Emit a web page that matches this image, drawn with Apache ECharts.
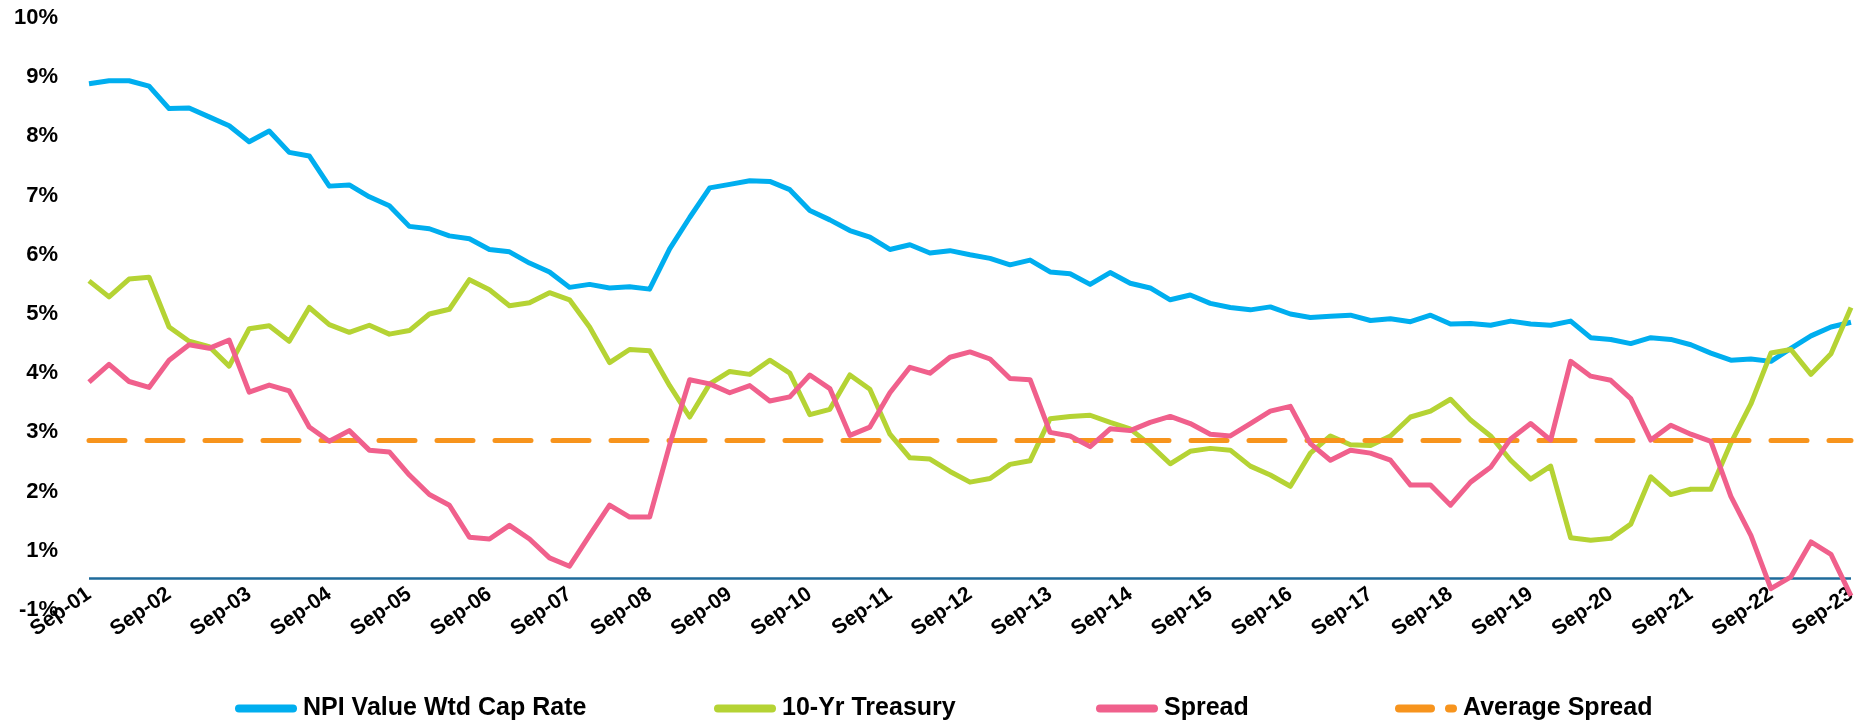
<!DOCTYPE html>
<html>
<head>
<meta charset="utf-8">
<script src="https://cdn.jsdelivr.net/npm/echarts@6/dist/echarts.min.js"></script>
<style>
html,body{margin:0;padding:0;background:#fff;}
#chart{width:1873px;height:723px;}
</style>
</head>
<body>
<div id="chart"></div>
<script>
// Quarterly categories
const categories = [
'Sep-01','Dec-01','Mar-02','Jun-02','Sep-02','Dec-02','Mar-03','Jun-03','Sep-03','Dec-03','Mar-04','Jun-04',
'Sep-04','Dec-04','Mar-05','Jun-05','Sep-05','Dec-05','Mar-06','Jun-06','Sep-06','Dec-06','Mar-07','Jun-07',
'Sep-07','Dec-07','Mar-08','Jun-08','Sep-08','Dec-08','Mar-09','Jun-09','Sep-09','Dec-09','Mar-10','Jun-10',
'Sep-10','Dec-10','Mar-11','Jun-11','Sep-11','Dec-11','Mar-12','Jun-12','Sep-12','Dec-12','Mar-13','Jun-13',
'Sep-13','Dec-13','Mar-14','Jun-14','Sep-14','Dec-14','Mar-15','Jun-15','Sep-15','Dec-15','Mar-16','Jun-16',
'Sep-16','Dec-16','Mar-17','Jun-17','Sep-17','Dec-17','Mar-18','Jun-18','Sep-18','Dec-18','Mar-19','Jun-19',
'Sep-19','Dec-19','Mar-20','Jun-20','Sep-20','Dec-20','Mar-21','Jun-21','Sep-21','Dec-21','Mar-22','Jun-22',
'Sep-22','Dec-22','Mar-23','Jun-23','Sep-23'
];

// Values as read against the chart's tick labels (%)
const npiCapRate = [
8.89,8.94,8.94,8.85,8.47,8.48,8.33,8.18,7.91,8.09,7.73,7.67,
7.16,7.18,6.98,6.83,6.48,6.44,6.32,6.27,6.09,6.05,5.86,5.71,
5.45,5.50,5.44,5.46,5.42,6.10,6.63,7.13,7.19,7.25,7.24,7.10,
6.75,6.59,6.41,6.30,6.09,6.17,6.03,6.07,6.00,5.94,5.83,5.91,
5.71,5.68,5.50,5.70,5.52,5.44,5.24,5.32,5.18,5.11,5.07,5.12,
5.00,4.94,4.96,4.98,4.89,4.92,4.87,4.98,4.83,4.84,4.81,4.88,
4.83,4.81,4.88,4.60,4.57,4.50,4.60,4.57,4.48,4.34,4.22,4.24,
4.20,4.42,4.63,4.78,4.86
];

const treasury10y = [
5.56,5.29,5.59,5.62,4.78,4.54,4.45,4.12,4.75,4.80,4.54,5.11,
4.82,4.69,4.81,4.66,4.72,5.00,5.08,5.58,5.41,5.14,5.19,5.36,
5.24,4.78,4.18,4.40,4.38,3.79,3.26,3.82,4.03,3.98,4.22,4.00,
3.30,3.39,3.97,3.73,2.97,2.57,2.55,2.34,2.16,2.22,2.46,2.52,
3.23,3.27,3.29,3.17,3.06,2.79,2.47,2.68,2.73,2.70,2.43,2.28,
2.09,2.65,2.94,2.79,2.78,2.94,3.26,3.36,3.56,3.21,2.94,2.53,
2.21,2.43,1.22,1.18,1.21,1.45,2.25,1.95,2.04,2.04,2.82,3.48,
4.34,4.40,3.98,4.33,5.11
];

const spread = [
3.85,4.15,3.86,3.76,4.22,4.48,4.42,4.56,3.68,3.80,3.70,3.09,
2.85,3.03,2.70,2.67,2.28,1.95,1.77,1.23,1.20,1.43,1.20,0.88,
0.74,1.26,1.77,1.57,1.57,2.79,3.89,3.82,3.67,3.79,3.53,3.60,
3.97,3.74,2.95,3.09,3.67,4.10,4.00,4.27,4.36,4.24,3.91,3.89,
3.00,2.94,2.76,3.06,3.03,3.17,3.27,3.15,2.97,2.94,3.15,3.36,
3.44,2.81,2.53,2.70,2.65,2.53,2.11,2.11,1.77,2.16,2.41,2.89,
3.15,2.87,4.20,3.95,3.88,3.57,2.87,3.12,2.97,2.85,1.92,1.26,
0.36,0.56,1.15,0.94,0.24
];

const averageSpread = 2.87;

// Y tick labels (value -> text)
const yTickLabels = {0:'-1%',1:'1%',2:'2%',3:'3%',4:'4%',5:'5%',6:'6%',7:'7%',8:'8%',9:'9%',10:'10%'};

const seriesNames = ['NPI Value Wtd Cap Rate','10-Yr Treasury','Spread','Average Spread'];

const baseLineLevel = 0.53;

const C_BLUE = '#00AEEF', C_GREEN = '#B5D334', C_PINK = '#F0608C', C_ORANGE = '#F7941D', C_AXIS = '#1F6B9B';
const FONT = "'Liberation Sans', Arial, sans-serif";

const lineIcon = 'path://M4,0 H58 A4,4 0 0 1 58,8 H4 A4,4 0 0 1 4,0 Z';
const dashIcon = 'path://M4,0 H36 A4,4 0 0 1 36,8 H4 A4,4 0 0 1 4,0 Z M54,0 H58 A4,4 0 0 1 58,8 H54 A4,4 0 0 1 54,0 Z';

function legendFor(name, left, icon) {
  return {
    data: [name], left: left, top: 696, padding: 0,
    itemWidth: 62, itemHeight: 8, icon: icon, selectedMode: false,
    textStyle: {fontFamily: FONT, fontWeight: 'bold', fontSize: 25, color: '#000', padding: [0,0,0,1]}
  };
}

const chart = echarts.init(document.getElementById('chart'), null, {renderer: 'canvas'});
chart.setOption({
  animation: false,
  backgroundColor: '#fff',
  grid: {left: 89, right: 22, top: 18, bottom: 113, containLabel: false},
  legend: [
    legendFor(seriesNames[0], 235, lineIcon),
    legendFor(seriesNames[1], 714, lineIcon),
    legendFor(seriesNames[2], 1096, lineIcon),
    legendFor(seriesNames[3], 1395, dashIcon)
  ],
  xAxis: {
    type: 'category', data: categories, boundaryGap: false,
    axisLine: {show: false}, axisTick: {show: false}, splitLine: {show: false},
    axisLabel: {interval: 3, rotate: 35, margin: -18, fontFamily: FONT, fontWeight: 'bold', fontSize: 21, color: '#000'}
  },
  yAxis: {
    type: 'value', min: 0, max: 10, interval: 1,
    axisLine: {show: false}, axisTick: {show: false}, splitLine: {show: false},
    axisLabel: {margin: 31, fontFamily: FONT, fontWeight: 'bold', fontSize: 22, color: '#000',
      formatter: v => yTickLabels[v] !== undefined ? yTickLabels[v] : ''}
  },
  series: [
    {name: seriesNames[0], type: 'line', data: npiCapRate, symbol: 'none', z: 3,
     itemStyle: {color: C_BLUE}, lineStyle: {color: C_BLUE, width: 5, join: 'round'},
     markLine: {silent: true, symbol: ['none','none'], label: {show: false}, z: 1,
       data: [{yAxis: baseLineLevel, lineStyle: {color: C_AXIS, width: 2.5, type: 'solid'}}]}},
    {name: seriesNames[1], type: 'line', data: treasury10y, symbol: 'none', z: 4,
     itemStyle: {color: C_GREEN}, lineStyle: {color: C_GREEN, width: 5, join: 'round'}},
    {name: seriesNames[2], type: 'line', data: spread, symbol: 'none', z: 5,
     itemStyle: {color: C_PINK}, lineStyle: {color: C_PINK, width: 5, join: 'round'}},
    {name: seriesNames[3], type: 'line', data: [], symbol: 'none', z: 6,
     itemStyle: {color: C_ORANGE}, lineStyle: {color: C_ORANGE, width: 5, type: [36,22]},
     markLine: {silent: true, symbol: ['none','none'], label: {show: false},
       data: [{yAxis: averageSpread, lineStyle: {color: C_ORANGE, width: 5, type: [36,22], cap: 'round'}}]}}
  ]
});
</script>
</body>
</html>
